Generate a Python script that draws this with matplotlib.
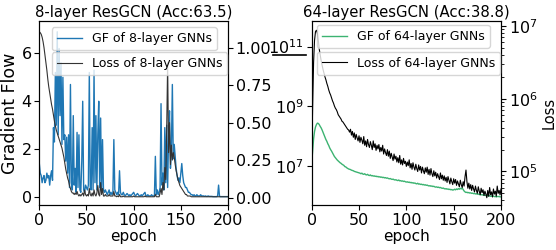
import numpy as np
import matplotlib
matplotlib.use("Agg")
import matplotlib.pyplot as plt
from matplotlib.lines import Line2D

epochs = list(range(201))
xticks = [0, 50, 100, 150, 200]

# ---- 8-layer ResGCN: gradient flow (left axis) ----
gf8 = [
    1.4, 1.0, 0.9, 0.6, 0.8, 0.9, 0.6, 0.7, 1.0, 0.8,
    0.9, 0.5, 0.9, 1.1, 0.7, 2.9, 2.3, 5.2, 3.0, 6.9,
    2.6, 6.2, 3.4, 5.6, 2.2, 5.0, 2.4, 2.6, 1.5, 2.5,
    1.0, 2.6, 0.4, 4.7, 0.6, 0.3, 3.4, 0.5, 1.2, 0.2,
    2.7, 0.4, 2.6, 0.3, 0.2, 1.5, 4.0, 0.3, 0.2, 0.5,
    0.4, 0.3, 0.5, 5.2, 0.4, 0.3, 2.9, 0.3, 5.3, 0.6,
    3.4, 0.3, 2.6, 4.0, 0.4, 3.3, 0.2, 2.4, 0.3, 0.2,
    0.3, 0.2, 0.1, 0.2, 0.3, 0.1, 0.2, 0.1, 0.2, 2.4,
    0.3, 0.2, 0.1, 0.2, 0.1, 1.1, 0.2, 0.1, 0.1, 0.2,
    0.1, 0.05, 0.1, 0.15, 0.1, 0.05, 0.1, 0.05, 0.1, 0.15,
    0.2, 0.1, 0.05, 0.1, 0.15, 0.1, 0.05, 0.05, 0.1, 0.05,
    0.1, 0.15, 0.2, 0.05, 0.05, 0.1, 0.05, 0.05, 0.05, 0.1,
    0.05, 0.05, 0.05, 1.7, 0.1, 0.3, 0.1, 0.2, 0.4, 3.9,
    0.5, 1.0, 0.3, 2.9, 0.6, 3.0, 0.4, 2.5, 3.6, 1.2,
    2.0, 4.7, 1.6, 2.2, 1.7, 1.2, 0.9, 0.7, 0.8, 0.6,
    1.0, 1.4, 0.9, 0.6, 0.5, 0.4, 0.4, 0.3, 0.2, 0.2,
    0.15, 0.1, 0.1, 0.05, 0.1, 0.05, 0.05, 0.1, 0.05, 0.05,
    0.05, 0.1, 0.05, 0.05, 0.05, 0.03, 0.05, 0.03, 0.03, 0.05,
    0.03, 0.03, 0.03, 0.03, 0.02, 0.02, 0.02, 0.02, 0.02, 0.05,
    0.5, 0.03, 0.02, 0.02, 0.02, 0.02, 0.02, 0.02, 0.02, 0.02,
    0.02,
]

# ---- 8-layer ResGCN: loss (right axis) ----
loss8 = [
    1.107, 1.10, 1.09, 1.07, 1.04, 1.00, 0.95, 0.90, 0.85, 0.79,
    0.74, 0.70, 0.66, 0.62, 0.59, 0.55, 0.51, 0.48, 0.45, 0.43,
    0.41, 0.39, 0.37, 0.35, 0.33, 0.30, 0.27, 0.23, 0.19, 0.16,
    0.13, 0.11, 0.08, 0.06, 0.04, 0.03, 0.03, 0.02, 0.03, 0.02,
    0.04, 0.02, 0.01, 0.02, 0.01, 0.02, 0.03, 0.01, 0.05, 0.02,
    0.01, 0.02, 0.01, 0.06, 0.02, 0.01, 0.03, 0.01, 0.05, 0.02,
    0.01, 0.03, 0.08, 0.02, 0.01, 0.10, 0.02, 0.06, 0.01, 0.01,
    0.02, 0.01, 0.01, 0.01, 0.02, 0.01, 0.01, 0.01, 0.01, 0.04,
    0.01, 0.01, 0.005, 0.01, 0.005, 0.02, 0.005, 0.005, 0.005, 0.01,
    0.005, 0.005, 0.005, 0.005, 0.005, 0.005, 0.005, 0.005, 0.005, 0.005,
    0.01, 0.005, 0.005, 0.005, 0.005, 0.005, 0.005, 0.005, 0.005, 0.005,
    0.005, 0.005, 0.01, 0.005, 0.005, 0.005, 0.005, 0.005, 0.005, 0.005,
    0.005, 0.005, 0.005, 0.02, 0.005, 0.005, 0.005, 0.005, 0.03, 0.06,
    0.02, 0.10, 0.05, 0.20, 0.12, 0.45, 0.90, 0.30, 0.50, 0.22,
    0.35, 0.25, 0.30, 0.27, 0.22, 0.18, 0.15, 0.12, 0.10, 0.08,
    0.07, 0.06, 0.05, 0.04, 0.03, 0.02, 0.02, 0.01, 0.01, 0.01,
    0.01, 0.005, 0.005, 0.005, 0.005, 0.005, 0.005, 0.005, 0.005, 0.005,
    0.005, 0.005, 0.005, 0.005, 0.005, 0.005, 0.005, 0.005, 0.005, 0.005,
    0.005, 0.005, 0.005, 0.005, 0.005, 0.005, 0.005, 0.005, 0.005, 0.005,
    0.005, 0.005, 0.005, 0.005, 0.005, 0.005, 0.005, 0.005, 0.005, 0.005,
    0.005,
]

# ---- 64-layer ResGCN: gradient flow, log10 of value (left axis) ----
gf64_log10 = [
    7.09, 7.50, 7.90, 8.15, 8.30, 8.38, 8.43, 8.42, 8.38, 8.32,
    8.27, 8.20, 8.12, 8.04, 7.97, 7.88, 7.82, 7.74, 7.68, 7.60,
    7.54, 7.49, 7.43, 7.37, 7.31, 7.27, 7.23, 7.19, 7.16, 7.13,
    7.10, 7.08, 7.05, 7.03, 7.01, 6.97, 6.96, 6.93, 6.91, 6.89,
    6.88, 6.87, 6.85, 6.84, 6.83, 6.81, 6.80, 6.79, 6.78, 6.77,
    6.76, 6.75, 6.73, 6.75, 6.72, 6.71, 6.73, 6.70, 6.69, 6.71,
    6.68, 6.67, 6.69, 6.66, 6.67, 6.65, 6.66, 6.64, 6.65, 6.63,
    6.64, 6.62, 6.63, 6.61, 6.62, 6.60, 6.61, 6.59, 6.60, 6.58,
    6.59, 6.57, 6.56, 6.57, 6.55, 6.54, 6.55, 6.53, 6.52, 6.53,
    6.51, 6.50, 6.52, 6.49, 6.50, 6.48, 6.49, 6.47, 6.48, 6.46,
    6.45, 6.46, 6.44, 6.45, 6.43, 6.44, 6.42, 6.43, 6.41, 6.42,
    6.40, 6.39, 6.41, 6.38, 6.39, 6.37, 6.38, 6.36, 6.37, 6.35,
    6.36, 6.34, 6.35, 6.33, 6.32, 6.33, 6.31, 6.32, 6.30, 6.31,
    6.29, 6.28, 6.29, 6.27, 6.28, 6.26, 6.27, 6.25, 6.24, 6.25,
    6.23, 6.22, 6.23, 6.21, 6.22, 6.20, 6.21, 6.19, 6.20, 6.18,
    6.19, 6.21, 6.19, 6.22, 6.20, 6.23, 6.21, 6.24, 6.22, 6.25,
    6.20, 6.15, 6.12, 6.10, 6.11, 6.09, 6.10, 6.08, 6.09, 6.07,
    6.08, 6.06, 6.07, 6.05, 6.06, 6.04, 6.05, 6.03, 6.04, 6.02,
    6.03, 6.01, 6.02, 6.00, 6.01, 5.99, 6.00, 5.98, 5.99, 5.97,
    5.98, 5.97, 5.98, 5.96, 5.97, 5.95, 5.97, 5.96, 5.97, 5.95,
    5.96,
]

# ---- 64-layer ResGCN: loss, log10 of value (right axis) ----
loss64_log10 = [
    5.13, 5.90, 6.50, 6.80, 6.92, 6.94, 6.90, 6.80, 6.68, 6.60,
    6.52, 6.46, 6.40, 6.35, 6.30, 6.26, 6.21, 6.17, 6.12, 6.08,
    6.05, 6.01, 5.97, 5.94, 5.90, 5.87, 5.85, 5.82, 5.78, 5.76,
    5.74, 5.72, 5.69, 5.68, 5.66, 5.64, 5.62, 5.60, 5.58, 5.57,
    5.54, 5.58, 5.50, 5.55, 5.47, 5.53, 5.44, 5.51, 5.46, 5.42,
    5.49, 5.40, 5.47, 5.43, 5.38, 5.48, 5.36, 5.42, 5.34, 5.44,
    5.37, 5.33, 5.41, 5.36, 5.30, 5.42, 5.33, 5.38, 5.29, 5.36,
    5.31, 5.37, 5.27, 5.33, 5.28, 5.36, 5.24, 5.31, 5.26, 5.22,
    5.30, 5.21, 5.28, 5.18, 5.25, 5.20, 5.15, 5.24, 5.17, 5.21,
    5.13, 5.19, 5.12, 5.22, 5.10, 5.16, 5.09, 5.18, 5.11, 5.14,
    5.07, 5.13, 5.08, 5.16, 5.05, 5.11, 5.03, 5.12, 5.06, 5.02,
    5.10, 5.04, 5.00, 5.09, 5.02, 5.07, 4.98, 5.06, 5.01, 4.97,
    5.05, 4.99, 5.06, 4.96, 5.03, 4.95, 5.04, 4.97, 4.93, 5.01,
    4.94, 4.99, 4.91, 4.97, 4.93, 4.89, 4.98, 4.90, 4.95, 4.88,
    4.94, 4.87, 4.92, 4.85, 4.93, 4.88, 4.83, 4.91, 4.86, 4.82,
    4.90, 4.84, 4.89, 4.81, 4.87, 4.83, 4.79, 4.88, 4.82, 4.78,
    4.86, 4.80, 4.93, 5.02, 4.86, 4.77, 4.84, 4.76, 4.82, 4.74,
    4.81, 4.76, 4.72, 4.80, 4.74, 4.70, 4.79, 4.73, 4.68, 4.77,
    4.71, 4.75, 4.67, 4.73, 4.69, 4.64, 4.74, 4.66, 4.78, 4.68,
    4.72, 4.65, 4.76, 4.69, 4.73, 4.66, 4.80, 4.70, 4.74, 4.68,
    4.76,
]

titles = ["8-layer ResGCN (Acc:63.5)", "64-layer ResGCN (Acc:38.8)"]
gf_labels = ["GF of 8-layer GNNs", "GF of 64-layer GNNs"]
loss_labels = ["Loss of 8-layer GNNs", "Loss of 64-layer GNNs"]

BLUE = "#1f77b4"
GREEN = "#3cb371"

fig = plt.figure(figsize=(5.56, 2.5), dpi=100)
TICK = 11.5
ax1 = fig.add_axes([0.0707, 0.18, 0.3394, 0.737])
ax2 = fig.add_axes([0.5606, 0.18, 0.3405, 0.737])

# ----- left panel -----
l1, = ax1.plot(epochs, gf8, color=BLUE, lw=1.0)
ax1.set_xlim(0, 200)
ax1.set_ylim(-0.33, 7.36)
ax1.set_yticks([0, 2, 4, 6])
ax1.set_xticks(xticks)
ax1.set_xlabel("epoch", fontsize=11, labelpad=1)
ax1.set_ylabel("Gradient Flow", fontsize=12.5, labelpad=2)
ax1.set_title(titles[0], fontsize=10.7, pad=3)
ax1.tick_params(labelsize=TICK, pad=2)
ax1t = ax1.twinx()
l2, = ax1t.plot(epochs, loss8, color="#333333", lw=0.8)
ax1t.set_ylim(-0.05, 1.18)
ax1t.set_yticks([0, 0.25, 0.5, 0.75, 1.0])
ax1t.tick_params(labelsize=TICK, pad=2)
leg_a = ax1t.legend([l1], [gf_labels[0]], loc="upper left", bbox_to_anchor=(0.067, 0.966),
                    borderaxespad=0, fontsize=9)
ax1t.add_artist(leg_a)
ax1t.legend([l2], [loss_labels[0]], loc="upper left", bbox_to_anchor=(0.067, 0.830),
            borderaxespad=0, fontsize=9)

# ----- right panel -----
l3, = ax2.plot(epochs, 10 ** np.array(gf64_log10), color=GREEN, lw=1.0)
ax2.set_yscale("log")
ax2.set_xlim(0, 200)
ax2.set_ylim(10 ** 5.68, 10 ** 11.87)
ax2.set_yticks([1e7, 1e9, 1e11])
ax2.yaxis.set_minor_locator(matplotlib.ticker.NullLocator())
ax2.set_xticks(xticks)
ax2.set_xlabel("epoch", fontsize=11, labelpad=1)
ax2.set_title(titles[1], fontsize=10.7, pad=3)
ax2.tick_params(labelsize=TICK, pad=2)
ax2t = ax2.twinx()
l4, = ax2t.plot(epochs, 10 ** np.array(loss64_log10), color="black", lw=0.8)
ax2t.set_yscale("log")
ax2t.set_ylim(10 ** 4.54, 10 ** 7.07)
ax2t.set_yticks([1e5, 1e6, 1e7])
ax2t.set_ylabel("Loss", fontsize=10.5, labelpad=3)
ax2t.tick_params(labelsize=TICK, pad=2)
leg_b = ax2t.legend([l3], [gf_labels[1]], loc="upper left", bbox_to_anchor=(0.028, 0.977),
                    borderaxespad=0, fontsize=9)
ax2t.add_artist(leg_b)
ax2t.legend([l4], [loss_labels[1]], loc="upper left", bbox_to_anchor=(0.028, 0.832),
            borderaxespad=0, fontsize=9)

# underline artifact below the 10^11 tick label
fig.add_artist(Line2D([273 / 556, 306 / 556], [1 - 54.5 / 250, 1 - 54.5 / 250],
                      color="black", lw=1.2))

fig.savefig("out.png", dpi=100)
